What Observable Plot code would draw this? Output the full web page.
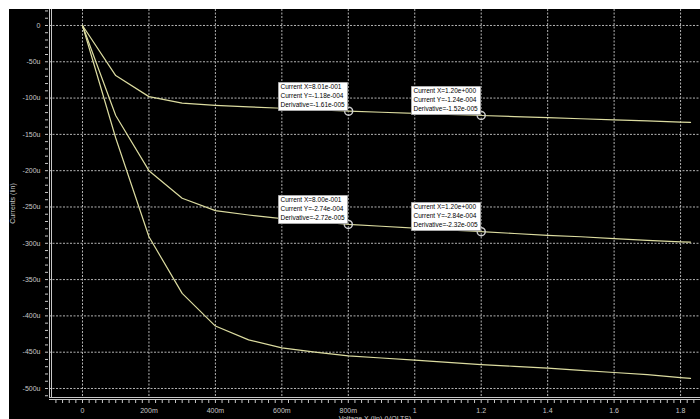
<!DOCTYPE html>
<html><head><meta charset="utf-8">
<script src="https://cdn.jsdelivr.net/npm/d3@7"></script>
<script src="https://cdn.jsdelivr.net/npm/@observablehq/plot@0.6"></script>
<style>
html,body{margin:0;padding:0;background:#fff;}
#chart{position:absolute;left:9px;top:9px;}
#chart svg{background:#000;display:block;}
[aria-label="tip"] text{fill:#000;}
</style></head><body><div id="chart"></div>
<script>
// Sweep voltage (V)
const xs = [0, 0.1, 0.2, 0.3, 0.4, 0.5, 0.6, 0.7, 0.8, 0.9, 1.0, 1.1, 1.2, 1.3, 1.4, 1.5, 1.6, 1.7, 1.8, 1.83];
// Currents (uA)
const curveA = [0, -69, -98, -107, -110, -112, -114, -116, -118, -119.5, -121, -122.5, -124, -125.5, -127, -128.5, -130, -131.5, -133, -133.5];
const curveB = [0, -124, -200, -238, -255, -261, -266, -270, -274, -276.5, -279, -281.5, -284, -286.5, -289, -291, -293.5, -296, -298, -298.5];
const curveC = [0, -155, -291, -369, -414, -433, -444, -450, -455, -458, -461, -464, -467, -469.5, -472, -475, -478, -481, -485, -486];

// Cursor annotations
const annX = [0.801, 1.2, 0.8, 1.2];
const annY = [-118, -124, -274, -284];
const annText = [
  "Current X=8.01e-001\nCurrent Y=-1.18e-004\nDerivative=-1.61e-005",
  "Current X=1.20e+000\nCurrent Y=-1.24e-004\nDerivative=-1.52e-005",
  "Current X=8.00e-001\nCurrent Y=-2.74e-004\nDerivative=-2.72e-005",
  "Current X=1.20e+000\nCurrent Y=-2.84e-004\nDerivative=-2.32e-005"
];

// Ticks
const xTicks = [0, 0.2, 0.4, 0.6, 0.8, 1, 1.2, 1.4, 1.6, 1.8];
const xTickLabels = ["0", "200m", "400m", "600m", "800m", "1", "1.2", "1.4", "1.6", "1.8"];
const yTicks = [0, -50, -100, -150, -200, -250, -300, -350, -400, -450, -500];
const yTickLabels = ["0", "-50u", "-100u", "-150u", "-200u", "-250u", "-300u", "-350u", "-400u", "-450u", "-500u"];
const xMinor = d3.range(-4, 94).map(i => i * 0.02);
const yMinor = d3.range(-51, 3).map(i => i * 10);

const font = '"Liberation Sans",Arial,sans-serif';
const rows = [];
[["A", curveA], ["B", curveB], ["C", curveC]].forEach(([k, v]) => xs.forEach((x, i) => rows.push({series: k, x, y: v[i]})));
const ann = annX.map((x, i) => ({x, y: annY[i], text: annText[i]}));
const xLab = new Map(xTicks.map((t, i) => [t, xTickLabels[i]]));
const yLab = new Map(yTicks.map((t, i) => [t, yTickLabels[i]]));

const axisColor = "#c8c8c8";
const plot = Plot.plot({
  width: 691, height: 410,
  marginLeft: 40, marginRight: 0, marginTop: 0, marginBottom: 22,
  style: {background: "#000", color: axisColor, fontFamily: font, fontSize: "7px"},
  x: {domain: [-0.0993, 1.86], label: null},
  y: {domain: [-512.4, 22], label: null},
  marks: [
    Plot.gridX(xTicks, {stroke: "#b4b4b4", strokeOpacity: 1, strokeDasharray: "2,1.5"}),
    Plot.gridY(yTicks, {stroke: "#b4b4b4", strokeOpacity: 1, strokeDasharray: "2,1.5"}),
    Plot.axisX(xMinor, {tickSize: 3, text: null, dy: 3, label: null, stroke: axisColor}),
    Plot.axisX(xTicks, {tickSize: 0, tickPadding: 11, tickFormat: d => xLab.get(d), label: "Voltage X (lin) (VOLTS)", labelAnchor: "center", labelArrow: "none", labelOffset: 23}),
    Plot.axisY(yMinor, {tickSize: 3, text: null, dx: -1, label: null, stroke: axisColor}),
    Plot.axisY(yTicks, {tickSize: 0, tickPadding: 9, tickFormat: d => yLab.get(d), label: "Currents (lin)", labelAnchor: "center", labelArrow: "none", labelOffset: 39}),
    Plot.frame({anchor: "left", stroke: axisColor}),
    Plot.frame({anchor: "left", stroke: axisColor, dx: 2}),
    Plot.frame({anchor: "bottom", stroke: axisColor}),
    Plot.frame({anchor: "bottom", stroke: axisColor, dy: 2}),
    Plot.line(rows, {x: "x", y: "y", z: "series", stroke: "#dcdca0", strokeWidth: 1.2}),
    Plot.dot(ann, {x: "x", y: "y", r: 4, stroke: "#d8d8d8", fill: "none"}),
    Plot.tip(ann, {x: "x", y: "y", title: "text", anchor: "bottom-right", pointerSize: 0, fill: "#fff", stroke: "#aaa", dx: -1, dy: -1, fontSize: 6.5, lineHeight: 1.34, textPadding: 2, fontFamily: font})
  ]
});
document.getElementById("chart").appendChild(plot);
</script></body></html>
